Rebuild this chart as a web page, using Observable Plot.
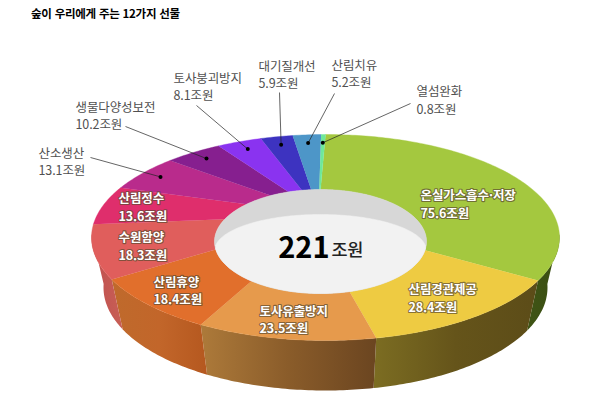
<!DOCTYPE html>
<html lang="ko">
<head>
<meta charset="utf-8">
<script src="https://cdn.jsdelivr.net/npm/d3@7"></script>
<script src="https://cdn.jsdelivr.net/npm/@observablehq/plot@0.6"></script>
<style>
  html, body { margin: 0; background: #fff; }
  #title { height: 26px; box-sizing: border-box; padding: 5px 0 0 31px; font: bold 11.5px/16px "Noto Sans CJK KR", sans-serif; color: #000; white-space: nowrap; letter-spacing: -0.25px; }
  svg { display: block; }
  .lab text { letter-spacing: -0.1px; }
  .unit text { letter-spacing: -0.3px; }
</style>
</head>
<body>
<div id="title">숲이 우리에게 주는 12가지 선물</div>
<div id="chart"></div>
<script>
// ---- data ----
const categories = ["온실가스흡수·저장","산림경관제공","토사유출방지","산림휴양","수원함양","산림정수","산소생산","생물다양성보전","토사붕괴방지","대기질개선","산림치유","열섬완화"];
const values = [75.6, 28.4, 23.5, 18.4, 18.3, 13.6, 13.1, 10.2, 8.1, 5.9, 5.2, 0.8];
const totalLabel = "221";
const unit = "조원";

// ---- styles ----
const topColors = ["#a4c83f","#eecb42","#e69a4c","#e16f2c","#e05e5c","#df2e6c","#b92b8c","#861f8f","#8a33f0","#3d33c0","#4d96c8","#6ee89a"];
// wall colours of the front slices, left to right on the page
const wallStops = [
  ["#3f5415","#3a4e12"],
  ["#7c6d22","#65541a","#5c4c18"],
  ["#ad7a3a","#8a5c2a","#6b4520"],
  ["#bf6a2c","#c2662a","#b5581f"],
  ["#c05050","#c85f55"]
];

// ---- layout of the drawing ----
const outer = {cx: 325, cy: 237, rx: 234, ry: 103, warp: 10};
const base  = {cx: 325, cy: 287, rx: 222, ry: 103};
const hole  = {cx: 320, cy: 241, rx: 106, ry: 52, warp: 28};
const floorTop = {cy: 250, ry: 36};
const labelAnchors = [[420,203],[408,297],[259,318.5],[153,289.5],[118,245],[118,206],[38,160.5],[75,114.5],[173,85.5],[258,73.5],[331,72.5],[416,99]];
const leaderStarts = [null,null,null,null,null,null,[90,157],[125,126],[196,105],[279,92],[334,93],[410,103]];

const rad = d => d * Math.PI / 180;
const total = d3.sum(values);
const cum = d3.cumsum(values);
const startDeg = i => (i === 0 ? 0 : cum[i - 1]) / total * 360;
const endDeg = i => cum[i] / total * 360;
const warped = (t, w) => t - w * Math.sin(rad(t));
const onEllipse = (e, t) => [e.cx + e.rx * Math.sin(rad(t)), e.cy - e.ry * Math.cos(rad(t))];

// top faces
const faces = [];
values.forEach((v, i) => {
  const a = startDeg(i), b = endDeg(i);
  const n = Math.max(3, Math.ceil(b - a));
  const id = "f" + i;
  for (let k = 0; k <= n; k++) {
    const [x, y] = onEllipse(outer, warped(a + (b - a) * k / n, outer.warp));
    faces.push({id, x, y, c: topColors[i]});
  }
  for (let k = n; k >= 0; k--) {
    const [x, y] = onEllipse(hole, warped(a + (b - a) * k / n, hole.warp));
    faces.push({id, x, y, c: topColors[i]});
  }
});

// outer wall of each front slice, filled with a left-to-right gradient
const walls = [];
const visibleFrom = 88, visibleTo = 272;
values.forEach((v, i) => {
  if (!wallStops[i]) return;
  const lo = i === 0 ? visibleFrom : warped(startDeg(i), outer.warp);
  const hi = Math.min(warped(endDeg(i), outer.warp), visibleTo);
  const c = `url(#wall${i})`, id = "w" + i, n = Math.ceil(hi - lo);
  for (let k = 0; k <= n; k++) { const [x, y] = onEllipse(outer, lo + (hi - lo) * k / n); walls.push({id, x, y, c}); }
  for (let k = n; k >= 0; k--) { const [x, y] = onEllipse(base, lo + (hi - lo) * k / n); walls.push({id, x, y, c}); }
});
const wallDefs = () => {
  const defs = d3.create("svg:defs");
  wallStops.forEach((stops, i) => {
    const g = defs.append("linearGradient").attr("id", "wall" + i);
    stops.forEach((s, k) => g.append("stop").attr("offset", k / (stops.length - 1)).attr("stop-color", s));
  });
  return defs.node();
};

// hole: gray wall and lighter floor
const holeRing = d3.range(0, 361, 2).map(t => { const [x, y] = onEllipse(hole, t); return {x, y}; });
const floorPts = [];
for (let dx = -105; dx <= 105; dx += 2) floorPts.push({x: hole.cx + dx, y: floorTop.cy - floorTop.ry * Math.sqrt(1 - (dx / hole.rx) ** 2)});
for (let dx = 105; dx >= -105; dx -= 2) floorPts.push({x: hole.cx + dx, y: hole.cy + hole.ry * Math.sqrt(1 - (dx / hole.rx) ** 2)});

// labels
const labels = categories.map((name, i) => ({
  text: `${name}\n${values[i].toFixed(1)}${unit}`, x: labelAnchors[i][0], y: labelAnchors[i][1]
}));
const insideLabels = labels.slice(0, 6), outsideLabels = labels.slice(6);

// leaders end on a dot inside their slice
const dots = [];
leaderStarts.forEach((s, i) => {
  if (!s) return;
  const m = (startDeg(i) + endDeg(i)) / 2;
  const [ox, oy] = onEllipse(outer, warped(m, outer.warp));
  const [ix, iy] = onEllipse(hole, warped(m, hole.warp));
  const f = 0.85;
  dots.push({x1: s[0], y1: s[1], x2: ix + (ox - ix) * f, y2: iy + (oy - iy) * f});
});

const font = '"Noto Sans CJK KR", sans-serif';
const plot = Plot.plot({
  width: 600, height: 374, margin: 0,
  x: {domain: [0, 600], range: [0, 600], axis: null},
  y: {domain: [26, 400], range: [0, 374], axis: null},
  color: {type: "identity"},
  style: {background: "#fff", fontFamily: font},
  marks: [
    wallDefs,
    Plot.line(walls, {x: "x", y: "y", z: "id", fill: "c", stroke: "none"}),
    Plot.line(faces, {x: "x", y: "y", z: "id", fill: "c", stroke: "c", strokeWidth: 0.4}),
    Plot.line(holeRing, {x: "x", y: "y", fill: "#d7d7d7", stroke: "#d7d7d7", strokeWidth: 0.5}),
    Plot.line(floorPts, {x: "x", y: "y", fill: "#f2f2f2", stroke: "#f2f2f2", strokeWidth: 0.5}),
    Plot.link(dots, {x1: "x1", y1: "y1", x2: "x2", y2: "y2", stroke: "#222", strokeWidth: 0.7}),
    Plot.dot(dots, {x: "x2", y: "y2", r: 2, fill: "#000", stroke: "none"}),
    Plot.text(outsideLabels, {x: "x", y: "y", text: "text", textAnchor: "start", fontSize: 12.5, lineHeight: 1.38, fill: "#505050", className: "lab"}),
    Plot.text(insideLabels, {x: "x", y: "y", text: "text", textAnchor: "start", fontSize: 12.5, lineHeight: 1.38, fill: "#fff", fontWeight: 700, stroke: "#5b4a30", strokeWidth: 2.2, strokeOpacity: 0.7, paintOrder: "stroke", className: "lab"}),
    Plot.text([totalLabel], {x: [329], y: [252], text: d => d, textAnchor: "end", lineAnchor: "bottom", fontSize: 29, fontWeight: 700, fill: "#000", dy: 5}),
    Plot.text([unit], {x: [331], y: [252], text: d => d, textAnchor: "start", lineAnchor: "bottom", fontSize: 17.5, fontWeight: 500, fill: "#222", dy: 3.5, className: "unit"})
  ]
});
document.getElementById("chart").append(plot);
</script>
</body>
</html>
